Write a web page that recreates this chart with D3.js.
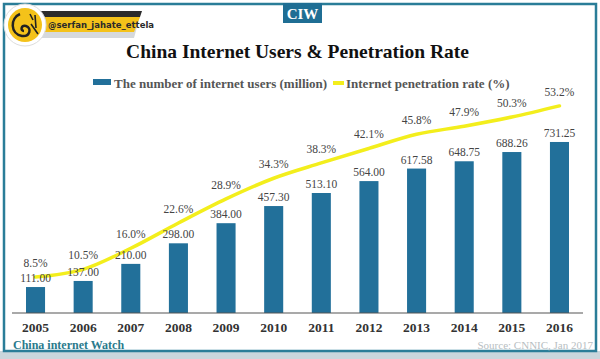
<!DOCTYPE html>
<html><head><meta charset="utf-8">
<script src="https://cdn.jsdelivr.net/npm/d3@7/dist/d3.min.js"></script>
<style>
html,body{margin:0;padding:0;background:#fff;}
svg{display:block;}
</style></head>
<body>
<svg id="chart" width="600" height="359"></svg>
<script>
const years = ["2005","2006","2007","2008","2009","2010","2011","2012","2013","2014","2015","2016"];
const users = [111.00,137.00,210.00,298.00,384.00,457.30,513.10,564.00,617.58,648.75,688.26,731.25];
const rates = [8.5,10.5,16.0,22.6,28.9,34.3,38.3,42.1,45.8,47.9,50.3,53.2];
const title = "China Internet Users & Penetration Rate";
const legendLabels = ["The number of internet users (million)","Internet penetration rate (%)"];

const svg = d3.select("#chart");
const serif = "'Liberation Serif','Times New Roman',serif";
const barColor = "#22709a";
const lineColor = "#f3ee1c";
const frameColor = "#2a7d98";

// background & frame
svg.append("rect").attr("x",0).attr("y",0).attr("width",600).attr("height",359).attr("fill","#fff");
svg.append("rect").attr("x",0).attr("y",351).attr("width",600).attr("height",8).attr("fill","#c9d6dc");
svg.append("rect").attr("x",4).attr("y",4).attr("width",592).attr("height",347)
  .attr("fill","#fff").attr("stroke",frameColor).attr("stroke-width",2.5);

// CIW box
svg.append("rect").attr("x",283).attr("y",3).attr("width",39).attr("height",20).attr("fill","#1f6e94");
svg.append("text").attr("x",302.5).attr("y",19).attr("text-anchor","middle")
  .attr("font-family",serif).attr("font-weight","bold").attr("font-size",15).attr("fill","#fff").text("CIW");

// logo
const logo = svg.append("g");
logo.append("path").attr("d","M40,16 L140,16 L134,38 L40,38 Z").attr("fill","#d6d9dc");
logo.append("path").attr("d","M40,11 L142,11 L140,17 L40,17 Z").attr("fill","#2b2b2b");
logo.append("path").attr("d","M40,17 L140,17 L134,32 L40,32 Z").attr("fill","#f4c21a");
logo.append("text").attr("x",48).attr("y",28).attr("font-family","'DejaVu Sans',sans-serif")
  .attr("font-size",8.5).attr("font-weight","bold").attr("fill","#2a2a2a").text("@serfan_jahate_ettela");
logo.append("circle").attr("cx",25).attr("cy",25).attr("r",21).attr("fill","#fff").attr("stroke","#ddd");
logo.append("circle").attr("cx",25).attr("cy",25).attr("r",17).attr("fill","#f4c21a");
logo.append("path").attr("d","M20,14 C10,18 10,34 22,36 C30,37 32,28 26,26 C21,25 20,31 24,31")
  .attr("fill","none").attr("stroke","#222").attr("stroke-width",2.5);
logo.append("path").attr("d","M30,14 L33,20 M35,15 L36,28 M31,24 L38,34")
  .attr("fill","none").attr("stroke","#222").attr("stroke-width",1.6);

// title
svg.append("text").attr("x",297.5).attr("y",58).attr("text-anchor","middle")
  .attr("font-family",serif).attr("font-weight","bold").attr("font-size",19.5).attr("fill","#111")
  .text(title);

// legend
svg.append("rect").attr("x",93).attr("y",79).attr("width",18).attr("height",6).attr("fill",barColor);
svg.append("text").attr("x",114).attr("y",88).attr("font-family",serif).attr("font-weight","bold")
  .attr("font-size",13).attr("fill","#555").text(legendLabels[0]);
svg.append("line").attr("x1",333).attr("x2",344).attr("y1",83).attr("y2",83)
  .attr("stroke",lineColor).attr("stroke-width",4);
svg.append("text").attr("x",346).attr("y",88).attr("font-family",serif).attr("font-weight","bold")
  .attr("font-size",13).attr("fill","#555").text(legendLabels[1]);

// scales
const x = d3.scaleBand().domain(years).range([26,569]).paddingInner(0.6).paddingOuter(0);
const y = d3.scaleLinear().domain([0,800]).range([313,313-187.1]);
const yr = d3.scaleLinear().domain([0,60]).range([309.5,309.5-229.6]);

// bars
svg.append("g").selectAll("rect").data(years).join("rect")
  .attr("x",d=>x(d)).attr("width",x.bandwidth())
  .attr("y",(d,i)=>y(users[i])).attr("height",(d,i)=>y(0)-y(users[i]))
  .attr("fill",barColor);

// axis
const axis = svg.append("g").attr("transform","translate(0,313)")
  .call(d3.axisBottom(x).tickSize(0).tickPadding(14));
axis.select(".domain").remove();
axis.selectAll("text").attr("font-family",serif).attr("font-weight","bold")
  .attr("font-size",13.5).attr("fill","#333").attr("dy","0.4em");
svg.append("line").attr("x1",12).attr("x2",583).attr("y1",313).attr("y2",313)
  .attr("stroke","#555").attr("stroke-width",1.2);

// line
const cx = d => x(d)+x.bandwidth()/2;
const line = d3.line().x((d,i)=>cx(years[i])).y(d=>yr(d)).curve(d3.curveMonotoneX);
svg.append("path").datum(rates).attr("d",line).attr("fill","none")
  .attr("stroke",lineColor).attr("stroke-width",3.5).attr("stroke-linecap","round");

// value labels
svg.append("g").selectAll("text").data(years).join("text")
  .attr("x",d=>cx(d)).attr("y",(d,i)=>y(users[i])-5).attr("text-anchor","middle")
  .attr("font-family",serif).attr("font-size",11.5).attr("fill","#444")
  .text((d,i)=>users[i].toFixed(2));
svg.append("g").selectAll("text").data(years).join("text")
  .attr("x",d=>cx(d)).attr("y",(d,i)=>yr(rates[i])-10).attr("text-anchor","middle")
  .attr("font-family",serif).attr("font-size",11.5).attr("fill","#444")
  .text((d,i)=>rates[i].toFixed(1)+"%");

// footer
svg.append("text").attr("x",13).attr("y",349).attr("font-family",serif).attr("font-weight","bold")
  .attr("font-size",12).attr("fill","#2a7a8c").text("China internet Watch");
svg.append("text").attr("x",593).attr("y",349).attr("text-anchor","end").attr("font-family",serif)
  .attr("font-size",11).attr("fill","#b8bec2").text("Source: CNNIC, Jan 2017");
</script>
</body></html>
